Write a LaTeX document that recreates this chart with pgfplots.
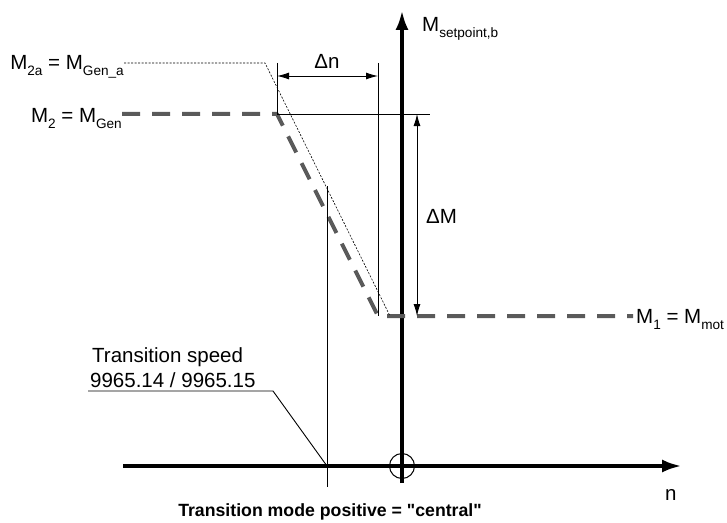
\documentclass[border=0pt]{standalone}
\usepackage{pgfplots}
\pgfplotsset{compat=1.18}
\usepackage{fontspec}
\setmainfont{Liberation Sans}
\usetikzlibrary{arrows.meta}
\newcommand\sub[1]{\raisebox{-6bp}{\fontsize{13.6bp}{14bp}\selectfont #1}}
\definecolor{setp}{HTML}{5A5A5A}
\tikzset{thinl/.style={line width=0.9bp, black},
  lab/.style={inner sep=0pt, font=\fontsize{20.5bp}{24bp}\selectfont}}
\begin{document}
\begin{tikzpicture}
\begin{axis}[hide axis, scale only axis, width=727bp, height=523bp,
  xmin=0, xmax=727, ymin=0, ymax=523, y dir=reverse, clip=false]
% frame (invisible)
\addplot[draw=none] coordinates {(0,0) (727,523)};
% axes
\addplot[line width=4bp, -{Latex[length=20bp,width=13bp]}] coordinates {(123,466) (682,466)};
\addplot[line width=4bp, -{Latex[length=20bp,width=13bp]}] coordinates {(402,483) (402,10)};
\addplot[only marks, mark=o, mark size=12.5bp, mark options={line width=1bp, black}] coordinates {(402,466)};
% setpoint characteristic
\addplot[line width=4bp, setp, dash pattern=on 18bp off 12bp, line join=round] coordinates {(122,114) (277,114) (378,316) (633,316)};
% M2a characteristic
\addplot[line width=0.6bp, black, dash pattern=on 2bp off 1.5bp] coordinates {(124,63) (265,63) (390,316)};
% dimension lines
\addplot[thinl] coordinates {(277,63) (277,114)};
\addplot[thinl] coordinates {(378,63) (378,316)};
\addplot[thinl] coordinates {(277,114) (430,114)};
\addplot[thinl, {Latex[length=12bp,width=7bp]}-{Latex[length=12bp,width=7bp]}] coordinates {(277,76) (378,76)};
\addplot[thinl, {Latex[length=12bp,width=7bp]}-{Latex[length=12bp,width=7bp]}] coordinates {(417,114) (417,316)};
\addplot[thinl] coordinates {(327,186) (327,487)};
\addplot[thinl] coordinates {(88,391) (273,391) (327,466)};
% labels
\node[lab, anchor=base east] at (axis cs:124,70) {M\sub{2a} = M\sub{Gen\_a}};
\node[lab, anchor=base east] at (axis cs:122,122) {M\sub{2} = M\sub{Gen}};
\node[lab, anchor=base west] at (axis cs:636,323) {M\sub{1} = M\sub{mot}};
\node[lab, anchor=base west] at (axis cs:422,32) {M\sub{setpoint,b}};
\node[lab, anchor=base] at (axis cs:327,69) {Δn};
\node[lab, anchor=base west] at (axis cs:426,223) {ΔM};
\node[lab, anchor=base west] at (axis cs:665,500) {n};
\node[lab, anchor=base west] at (axis cs:92,362) {Transition speed};
\node[lab, anchor=base west] at (axis cs:90,387) {9965.14 / 9965.15};
\node[inner sep=0pt, anchor=base, font=\fontsize{17.7bp}{20bp}\selectfont\bfseries] at (axis cs:330,516) {Transition mode positive = \textquotedbl central\textquotedbl};
\end{axis}
\end{tikzpicture}
\end{document}
